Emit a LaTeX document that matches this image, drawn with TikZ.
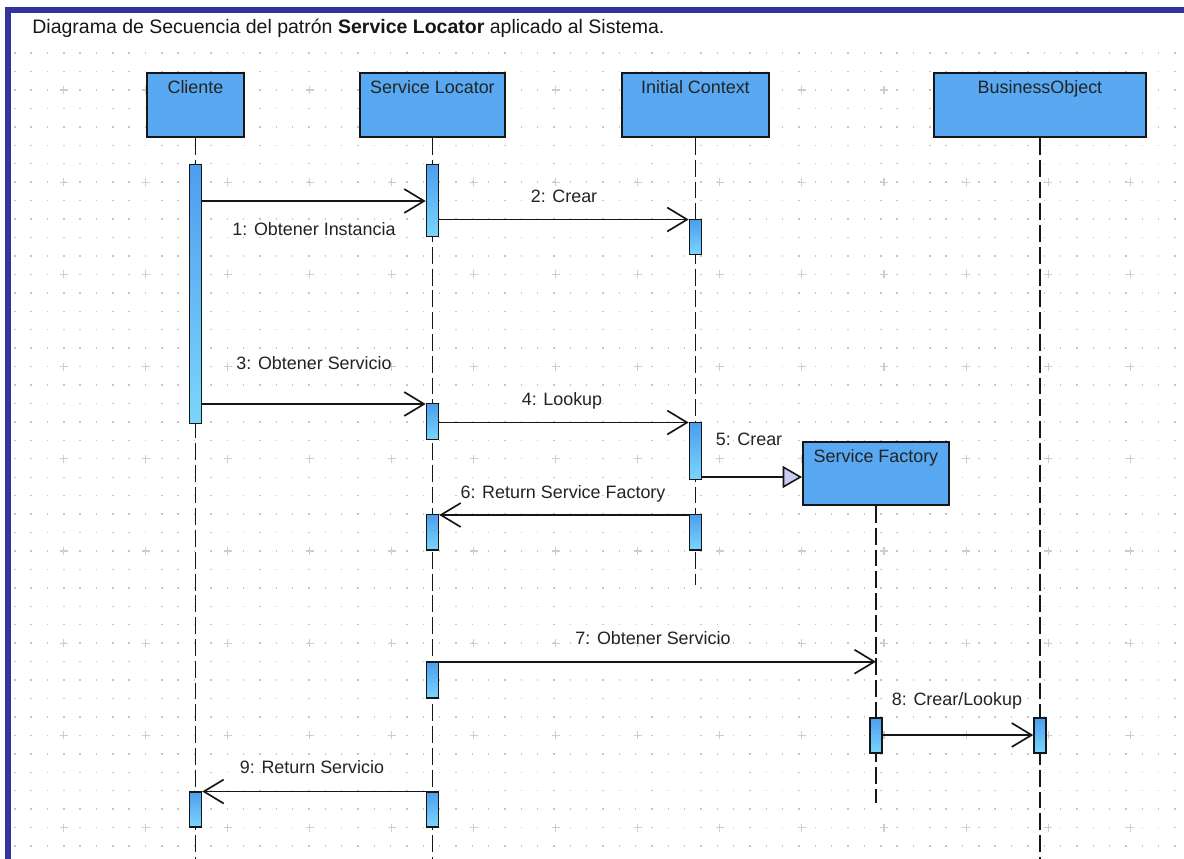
\documentclass[tikz,border=0pt]{standalone}
\usepackage{fontspec}
\setmainfont{Liberation Sans}
\usetikzlibrary{arrows.meta,calc}

\definecolor{framec}{RGB}{51,51,153}
\definecolor{boxc}{RGB}{88,168,242}
\definecolor{bartop}{RGB}{76,158,238}
\definecolor{barbot}{RGB}{122,214,252}
\definecolor{dotc}{RGB}{198,198,198}
\definecolor{plusc}{RGB}{205,205,205}
\definecolor{tipc}{RGB}{204,204,240}
\definecolor{inkc}{RGB}{22,22,22}
\definecolor{txtc}{RGB}{35,35,35}

\tikzset{
  headbox/.style={draw=inkc, line width=1.1pt, fill=boxc, anchor=north west, inner sep=0pt},
  headtxt/.style={anchor=base, text=txtc, font=\fontsize{10.2}{12}\selectfont, inner sep=0pt},
  actbar/.style={draw=inkc, line width=0.85pt, top color=bartop, bottom color=barbot,
                 minimum width=12*0.02cm, anchor=north, inner sep=0pt},
  lifeline/.style={draw=inkc, line width=0.85pt, dash pattern=on 9.6pt off 2.8pt},
  msg/.style={draw=inkc, line width=0.95pt, -{Straight Barb[length=11.3pt, width=13.6pt, line width=0.95pt]}},
  createmsg/.style={draw=inkc, line width=0.95pt, -{Triangle[length=11pt, width=12.5pt, fill=tipc, line width=0.9pt]}},
  lbl/.style={anchor=base, text=txtc, font=\fontsize{10.2}{12}\selectfont, inner sep=0pt},
  griddots/.style={draw=dotc, line width=0.8pt, dash pattern=on 0.8pt off 8.5pt},
  gridplus/.style={draw=plusc, line width=0.6pt},
}

\begin{document}
\begin{tikzpicture}[x=0.02cm, y=-0.02cm]
  \useasboundingbox (0,0) rectangle (1184,859);
  \fill[white] (0,0) rectangle (1184,859);

  % dotted background grid with crosses every fifth dot
  \foreach \k in {0,...,43}
    \draw[griddots] (14.1,{53.1+18.44*\k}) -- (1184,{53.1+18.44*\k});
  \foreach \i in {0,...,13}
    \foreach \j in {0,...,8}
      \draw[gridplus] ({63.5+82.05*\i-4},{90+92.2*\j}) -- ++(8,0)
                      ({63.5+82.05*\i},{90+92.2*\j-4}) -- ++(0,8);

  % frame
  \fill[framec] (5,7) rectangle (1184,12.5);
  \fill[framec] (5,7) rectangle (11,859);

  % title
  \node[anchor=base west, text=inkc, font=\fontsize{11.1}{13}\selectfont, inner sep=0pt] (title) at (32,33)
    {Diagrama de Secuencia del patrón \textbf{Service Locator} aplicado al Sistema.};

  % participants
  \node[headbox, minimum width=97*0.02cm, minimum height=64*0.02cm] (cli) at (146,72) {};
  \node[headbox, minimum width=145*0.02cm, minimum height=64*0.02cm] (sl) at (359,72) {};
  \node[headbox, minimum width=147*0.02cm, minimum height=64*0.02cm] (ic) at (621,72) {};
  \node[headbox, minimum width=212*0.02cm, minimum height=64*0.02cm] (bo) at (933,72) {};
  \node[headbox, minimum width=146*0.02cm, minimum height=63*0.02cm] (sf) at (802,441) {};

  % lifelines
  \coordinate (cliend) at (cli.south |- 0,859);
  \coordinate (slend) at (sl.south |- 0,859);
  \coordinate (icend) at (ic.south |- 0,585);
  \coordinate (sfend) at (sf.south |- 0,803);
  \coordinate (boend) at (bo.south |- 0,859);
  \draw[lifeline] (cli.south) -- (cliend);
  \draw[lifeline] (sl.south) -- (slend);
  \draw[lifeline] (ic.south) -- (icend);
  \draw[lifeline] (sf.south) -- (sfend);
  \draw[lifeline] (bo.south) -- (boend);

  % participant names
  \node[headtxt] (clit) at ($(cli.north)+(0,21)$) {Cliente};
  \node[headtxt] (slt) at ($(sl.north)+(0,21)$) {Service Locator};
  \node[headtxt] (ict) at ($(ic.north)+(0,21)$) {Initial Context};
  \node[headtxt] (bot) at ($(bo.north)+(0,21)$) {BusinessObject};
  \node[headtxt] (sft) at ($(sf.north)+(0,21)$) {Service Factory};

  % activation bars
  \node[actbar, minimum height=259*0.02cm] (cb1) at (cli.south |- 0,164) {};
  \node[actbar, minimum height=72*0.02cm] (sb1) at (sl.south |- 0,164) {};
  \node[actbar, minimum height=35*0.02cm] (ib1) at (ic.south |- 0,219) {};
  \node[actbar, minimum height=36*0.02cm] (sb2) at (sl.south |- 0,403) {};
  \node[actbar, minimum height=57*0.02cm] (ib2) at (ic.south |- 0,422) {};
  \node[actbar, minimum height=35*0.02cm] (sb3) at (sl.south |- 0,514) {};
  \node[actbar, minimum height=35*0.02cm] (ib3) at (ic.south |- 0,514) {};
  \node[actbar, minimum height=36*0.02cm] (sb4) at (sl.south |- 0,661) {};
  \node[actbar, minimum height=35*0.02cm] (fb1) at (sf.south |- 0,717) {};
  \node[actbar, minimum height=35*0.02cm] (ob1) at (bo.south |- 0,717) {};
  \node[actbar, minimum height=35*0.02cm] (cb2) at (cli.south |- 0,791) {};
  \node[actbar, minimum height=35*0.02cm] (sb5) at (sl.south |- 0,791) {};

  % message heights
  \coordinate (y1) at (0,201);
  \coordinate (y2) at (0,219.5);
  \coordinate (y3) at (0,404);
  \coordinate (y4) at (0,422.5);
  \coordinate (y5) at (0,477);
  \coordinate (y6) at (0,515);
  \coordinate (y7) at (0,661.7);
  \coordinate (y8) at (0,735);
  \coordinate (y9) at (0,791.5);

  % messages
  \draw[msg] (cb1.east |- y1) -- (sb1.west |- y1);
  \draw[msg] (sb1.east |- y2) -- (ib1.west |- y2);
  \draw[msg] (cb1.east |- y3) -- (sb2.west |- y3);
  \draw[msg] (sb2.east |- y4) -- (ib2.west |- y4);
  \draw[createmsg] (ib2.east |- y5) -- (sf.west |- y5);
  \draw[msg] (ib3.west |- y6) -- (sb3.east |- y6);
  \draw[msg] (sb4.east |- y7) -- (sf.south |- y7);
  \draw[msg] (fb1.east |- y8) -- (ob1.west |- y8);
  \draw[msg] (sb5.west |- y9) -- (cb2.east |- y9);

  % message labels
  \node[lbl] (l1) at (314,235) {1: Obtener Instancia};
  \node[lbl] (l2) at (564,202) {2: Crear};
  \node[lbl] (l3) at (314,369) {3: Obtener Servicio};
  \node[lbl] (l4) at (562,405) {4: Lookup};
  \node[lbl] (l5) at (749,445) {5: Crear};
  \node[lbl] (l6) at (563,498) {6: Return Service Factory};
  \node[lbl] (l7) at (653,644) {7: Obtener Servicio};
  \node[lbl] (l8) at (957,705) {8: Crear/Lookup};
  \node[lbl] (l9) at (312,773) {9: Return Servicio};
\end{tikzpicture}
\end{document}
